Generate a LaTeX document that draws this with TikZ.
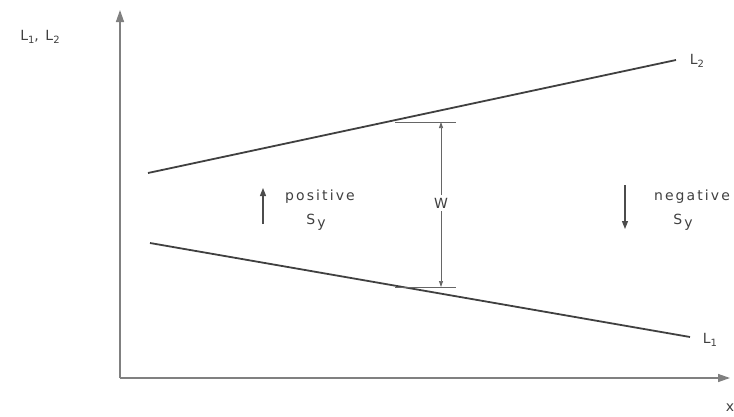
\documentclass[tikz,border=0pt]{standalone}
\usepackage{fontspec}
\setmainfont{DejaVu Sans}[LetterSpace=15]
\usetikzlibrary{arrows.meta}
\begin{document}
\begin{tikzpicture}[x=1pt,y=-1pt,
  axis/.style={draw=black!50, line width=1.4pt, -{Triangle[length=12pt,width=8pt]}},
  curve/.style={draw=black!75, line width=1.8pt},
  thin/.style={draw=black!60, line width=0.7pt},
  lbl/.style={text=black!75, font=\fontsize{14}{16}\selectfont, inner sep=0pt},
  dim/.style={draw=black!60, line width=0.7pt, {Triangle[length=6pt,width=4pt]}-{Triangle[length=6pt,width=4pt]}},
  sarrow/.style={draw=black!70, line width=1.2pt, -{Triangle[length=8pt,width=6pt]}}]
\useasboundingbox (0,0) rectangle (734,416);
\coordinate (O) at (120,378);
\coordinate (Ytop) at (120,10);
\coordinate (Xend) at (730,378);
\draw[axis] (O) -- (Ytop);
\draw[axis] (O) -- (Xend);
\coordinate (L2a) at (148,173);
\coordinate (L2b) at (676,60);
\coordinate (L1a) at (150,243);
\coordinate (L1b) at (690,337);
\draw[curve] (L2a) -- (L2b);
\draw[curve] (L1a) -- (L1b);
\coordinate (T1) at (395,122);
\coordinate (T1e) at (456,122);
\coordinate (T2) at (395,287);
\coordinate (T2e) at (456,287);
\draw[thin] (T1) -- (T1e);
\draw[thin] (T2) -- (T2e);
\coordinate (W1) at (441,122);
\coordinate (W2) at (441,287);
\draw[dim] (W1) -- (W2);
\node[lbl, fill=white, inner sep=3pt] (W) at (441,203) {W};
\coordinate (PA) at (263,224);
\coordinate (PB) at (263,188);
\draw[sarrow] (PA) -- (PB);
\coordinate (NA) at (625,185);
\coordinate (NB) at (625,229);
\draw[sarrow] (NA) -- (NB);
\node[lbl] (pos) at (320,197) {positive};
\node[lbl] (psy) at (316,222) {S\,\raisebox{-0.35ex}{y}};
\node[lbl] (neg) at (692,197) {negative};
\node[lbl] (nsy) at (683,222) {S\,\raisebox{-0.35ex}{y}};
\node[lbl] (axl) at (40,37) {L\raisebox{-0.3ex}{\fontsize{10}{11}\selectfont 1}, L\raisebox{-0.3ex}{\fontsize{10}{11}\selectfont 2}};
\node[lbl] (l2) at (697,61) {L\raisebox{-0.3ex}{\fontsize{10}{11}\selectfont 2}};
\node[lbl] (l1) at (710,340) {L\raisebox{-0.3ex}{\fontsize{10}{11}\selectfont 1}};
\node[lbl] (xl) at (730,408) {x};
\end{tikzpicture}
\end{document}
